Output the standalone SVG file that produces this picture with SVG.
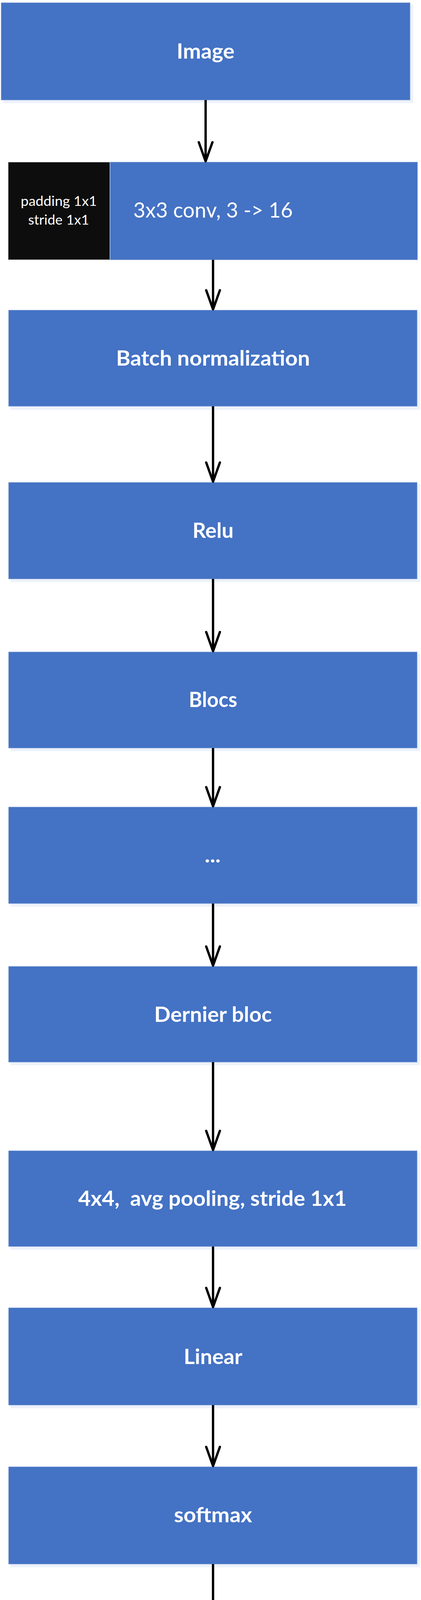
<svg xmlns="http://www.w3.org/2000/svg" width="1077" height="4424" viewBox="0 0 1077 4424">
  <style>
    .box { fill: #4472C4; stroke: #7F9DD6; stroke-width: 1; }
    .shadow { fill: #EDF2FA; }
    .dark { fill: #0D0D0D; stroke: #5A5A5A; stroke-width: 1; }
    .lbl { font-family: Lato, "Open Sans", "Liberation Sans", sans-serif; font-weight: 700; font-size: 54px; fill: #FFFFFF; text-anchor: middle; }
    .reg { font-family: Lato, "Open Sans", "Liberation Sans", sans-serif; font-weight: 400; font-size: 54px; fill: #FFFFFF; text-anchor: middle; }
    .small { font-family: Lato, "Open Sans", "Liberation Sans", sans-serif; font-weight: 400; font-size: 35.5px; fill: #FFFFFF; text-anchor: middle; }
    .conn { stroke: #000000; stroke-width: 6; fill: none; marker-end: url(#arrow); }
  </style>
  <defs>
    <marker id="arrow" markerUnits="userSpaceOnUse" viewBox="-56 -25 62 50" refX="0" refY="0" markerWidth="62" markerHeight="50" orient="auto">
      <path d="M -49,-17.5 L 0,0 L -49,17.5" fill="none" stroke="#000000" stroke-width="6" stroke-linecap="round" stroke-linejoin="round"/>
    </marker>
  </defs>
  <rect width="1077" height="4424" fill="#FFFFFF"/>

  <g id="node-image">
    <rect class="shadow" x="8" y="12" width="1049" height="252"/>
    <rect class="box" x="3" y="7" width="1046" height="249"/>
    <text class="lbl" x="526" y="150" textLength="148" lengthAdjust="spacingAndGlyphs">Image</text>
  </g>

  <g id="node-conv">
    <rect class="box" x="282" y="415" width="786" height="250"/>
    <text class="reg" x="545" y="557" textLength="408" lengthAdjust="spacingAndGlyphs">3x3 conv, 3 -&gt; 16</text>
  </g>

  <g id="node-padding">
    <rect class="dark" x="21.5" y="415.5" width="259" height="249"/>
    <text class="small" x="150.5" y="527" textLength="195" lengthAdjust="spacingAndGlyphs">padding 1x1</text>
    <text class="small" x="150" y="575" textLength="156" lengthAdjust="spacingAndGlyphs">stride 1x1</text>
  </g>

  <g id="node-batchnorm">
    <rect class="shadow" x="27" y="799" width="1048" height="250"/>
    <rect class="box" x="22" y="794" width="1045" height="246"/>
    <text class="lbl" x="545" y="936" textLength="496" lengthAdjust="spacingAndGlyphs">Batch normalization</text>
  </g>

  <g id="node-relu">
    <rect class="shadow" x="27" y="1240" width="1048" height="250"/>
    <rect class="box" x="22" y="1235" width="1045" height="247"/>
    <text class="lbl" x="545" y="1377" textLength="105" lengthAdjust="spacingAndGlyphs">Relu</text>
  </g>

  <g id="node-blocs">
    <rect class="shadow" x="27" y="1674" width="1048" height="249"/>
    <rect class="box" x="22" y="1669" width="1045" height="246"/>
    <text class="lbl" x="545" y="1810" textLength="124" lengthAdjust="spacingAndGlyphs">Blocs</text>
  </g>

  <g id="node-ellipsis">
    <rect class="shadow" x="27" y="2071" width="1048" height="250"/>
    <rect class="box" x="22" y="2066" width="1045" height="247"/>
    <text class="lbl" x="544" y="2208" textLength="41" lengthAdjust="spacingAndGlyphs">...</text>
  </g>

  <g id="node-dernier">
    <rect class="shadow" x="27" y="2479" width="1048" height="248"/>
    <rect class="box" x="22" y="2474" width="1045" height="245"/>
    <text class="lbl" x="545" y="2616" textLength="301" lengthAdjust="spacingAndGlyphs">Dernier bloc</text>
  </g>

  <g id="node-pooling">
    <rect class="shadow" x="27" y="2951" width="1048" height="248"/>
    <rect class="box" x="22" y="2946" width="1045" height="245"/>
    <text class="lbl" x="543.5" y="3087" textLength="687" lengthAdjust="spacingAndGlyphs" xml:space="preserve">4x4,  avg pooling, stride 1x1</text>
  </g>

  <g id="node-linear">
    <rect class="shadow" x="27" y="3353" width="1048" height="252"/>
    <rect class="box" x="22" y="3348" width="1045" height="249"/>
    <text class="lbl" x="545" y="3492" textLength="150" lengthAdjust="spacingAndGlyphs">Linear</text>
  </g>

  <g id="node-softmax">
    <rect class="shadow" x="27" y="3760" width="1048" height="252"/>
    <rect class="box" x="22" y="3755" width="1045" height="249"/>
    <text class="lbl" x="545" y="3897" textLength="200" lengthAdjust="spacingAndGlyphs">softmax</text>
  </g>

  <g id="node-classes">
    <rect class="shadow" x="27" y="4167" width="1048" height="251"/>
    <rect class="box" x="22" y="4162" width="1045" height="248"/>
    <text class="lbl" x="544" y="4304" textLength="168" lengthAdjust="spacingAndGlyphs">classes</text>
  </g>

  <g id="connectors">
    <line class="conn" x1="526" y1="256" x2="526" y2="413"/>
    <line class="conn" x1="545" y1="665" x2="545" y2="792"/>
    <line class="conn" x1="545" y1="1040" x2="545" y2="1233"/>
    <line class="conn" x1="545" y1="1482" x2="545" y2="1667"/>
    <line class="conn" x1="545" y1="1915" x2="545" y2="2064"/>
    <line class="conn" x1="545" y1="2313" x2="545" y2="2472"/>
    <line class="conn" x1="545" y1="2719" x2="545" y2="2944"/>
    <line class="conn" x1="545" y1="3191" x2="545" y2="3346"/>
    <line class="conn" x1="545" y1="3597" x2="545" y2="3753"/>
    <line class="conn" x1="545" y1="4004" x2="545" y2="4160"/>
  </g>
</svg>
